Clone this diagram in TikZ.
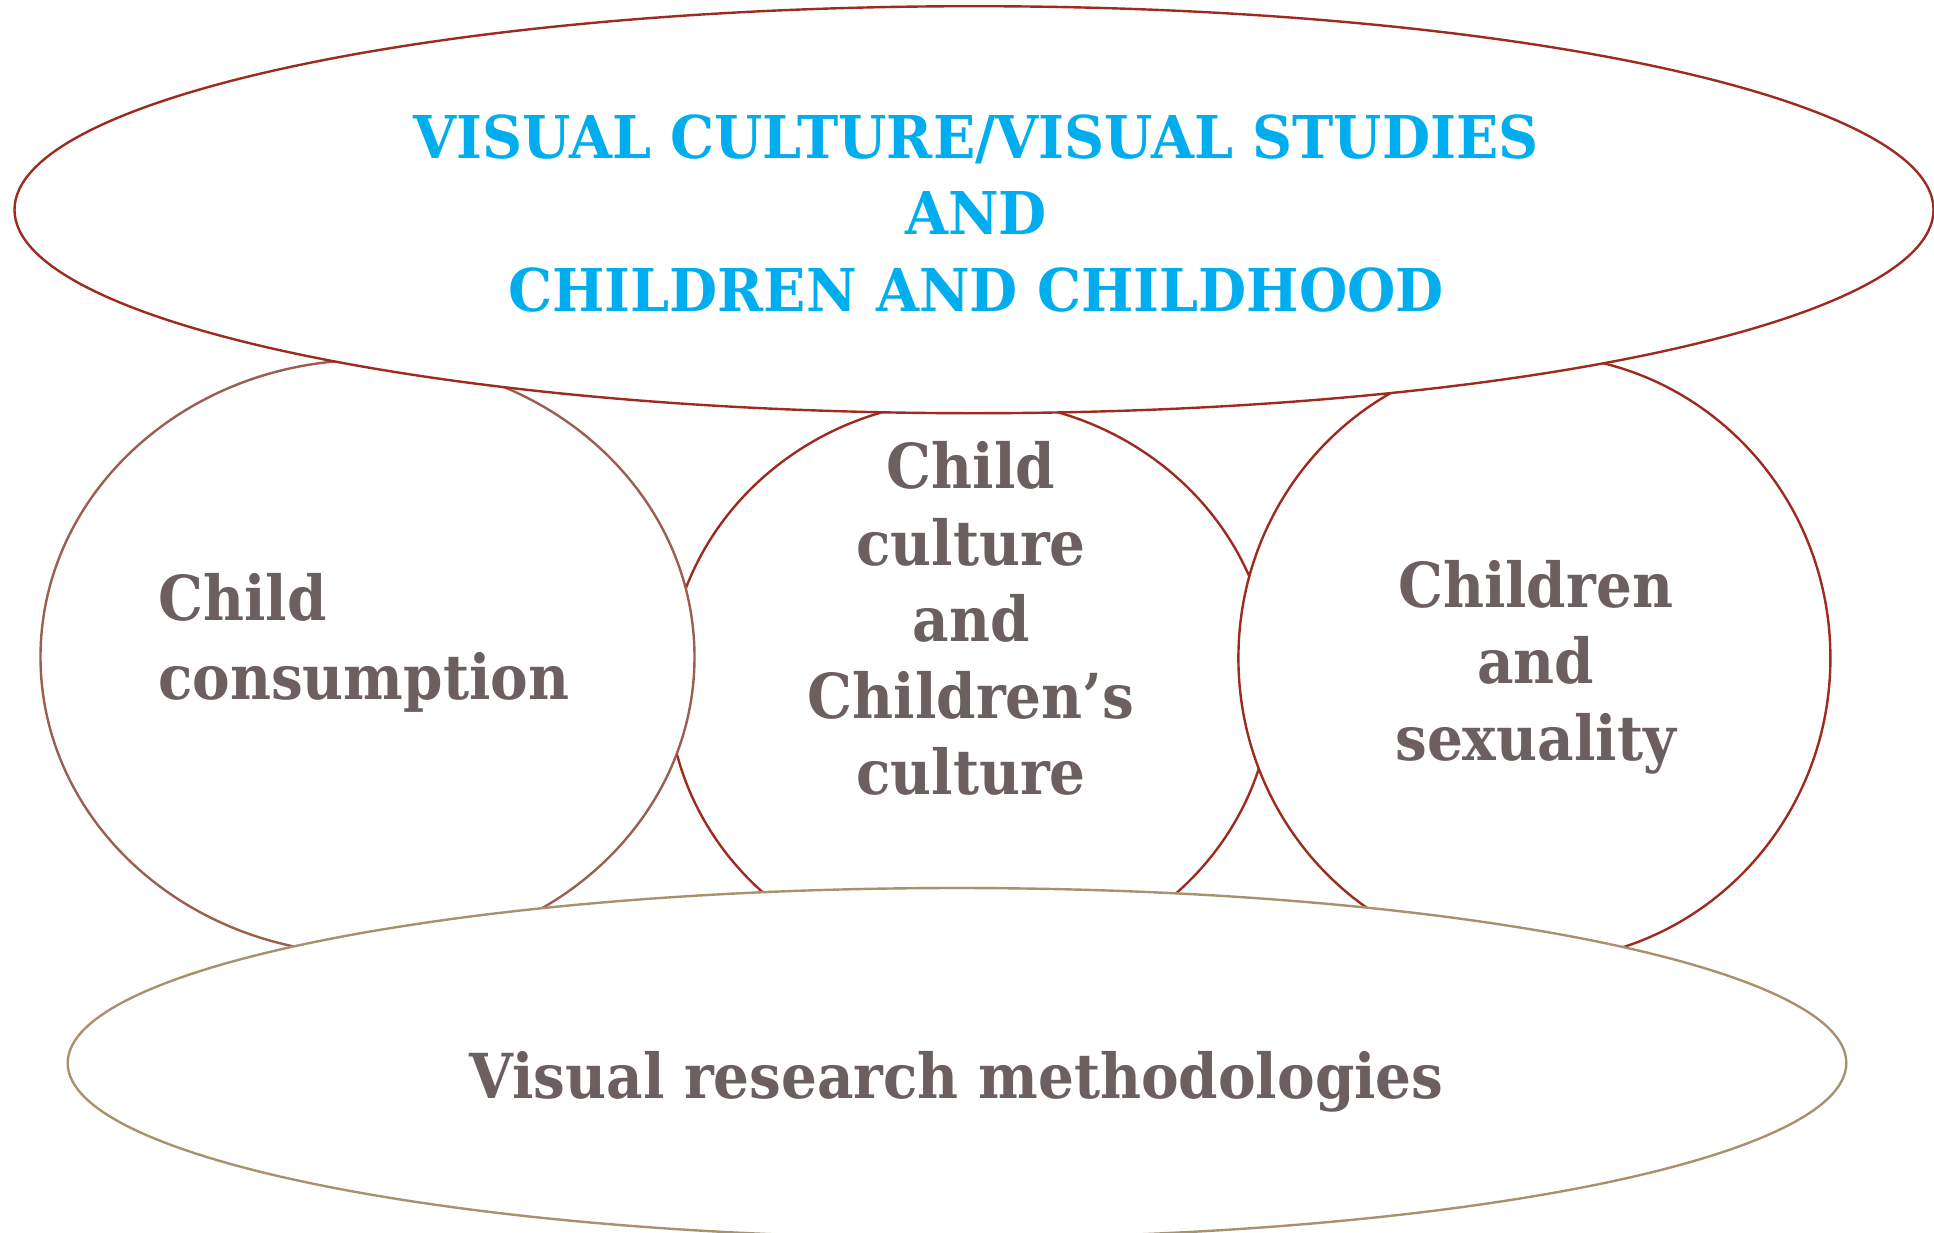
\documentclass[tikz,border=0pt]{standalone}
\usepackage{fontspec}
\usetikzlibrary{shapes.geometric}
\newfontfamily\slabtop[FakeStretch=0.94]{DejaVu Serif}
\newfontfamily\slabgrey[FakeStretch=0.91]{DejaVu Serif}
\definecolor{topred}{HTML}{9E2B1F}
\definecolor{leftbrown}{HTML}{9A5F4F}
\definecolor{tanline}{HTML}{A8916D}
\definecolor{cyantext}{HTML}{00AEEF}
\definecolor{greytext}{HTML}{6B5F5F}
\tikzset{
  blob/.style={ellipse, draw, fill=white, line width=2.4pt, inner sep=0pt, outer sep=0pt},
  toptext/.style={anchor=base, inner sep=0pt, text=cyantext, font=\slabtop\bfseries\fontsize{59}{76}\selectfont},
  greyline/.style={anchor=base, inner sep=0pt, text=greytext, font=\slabgrey\bfseries\fontsize{62}{77}\selectfont},
}
\begin{document}
\begin{tikzpicture}[x=1pt,y=-1pt]
\useasboundingbox[fill=white] (0,0) rectangle (1934,1232);
% middle circle first, then side circles over it
\node[blob, draw=topred, minimum width=604pt, minimum height=570pt] (mid) at (970,685) {};
\node[blob, draw=leftbrown, minimum width=654pt, minimum height=594pt] (left) at (367.5,657) {};
\node[blob, draw=topred, minimum width=592pt, minimum height=606pt] (right) at (1534.4,658) {};
\node[blob, draw=topred, minimum width=1919pt, minimum height=407pt] (top) at (974,209.7) {};
\node[blob, draw=tanline, minimum width=1778.6pt, minimum height=350pt] (bottom) at (957,1063) {};
% top text
\node[toptext] (t1) at (976,158) {VISUAL CULTURE/VISUAL STUDIES};
\node[toptext] (t2) at (976,234) {AND};
\node[toptext] (t3) at (976,311) {CHILDREN AND CHILDHOOD};
% left text
\node[greyline, anchor=base west] (l1) at (158,620) {Child};
\node[greyline, anchor=base west] (l2) at (158,699) {consumption};
% middle text
\node[greyline] (m1) at (971,488) {Child};
\node[greyline] (m2) at (971,565) {culture};
\node[greyline] (m3) at (971,641) {and};
\node[greyline] (m4) at (971,718) {Children’s};
\node[greyline] (m5) at (971,794) {culture};
% right text
\node[greyline] (r1) at (1535.6,607) {Children};
\node[greyline] (r2) at (1535.6,683) {and};
\node[greyline] (r3) at (1535.6,760) {sexuality};
% bottom text
\node[greyline] (b1) at (956.5,1098) {Visual research methodologies};
\end{tikzpicture}
\end{document}
